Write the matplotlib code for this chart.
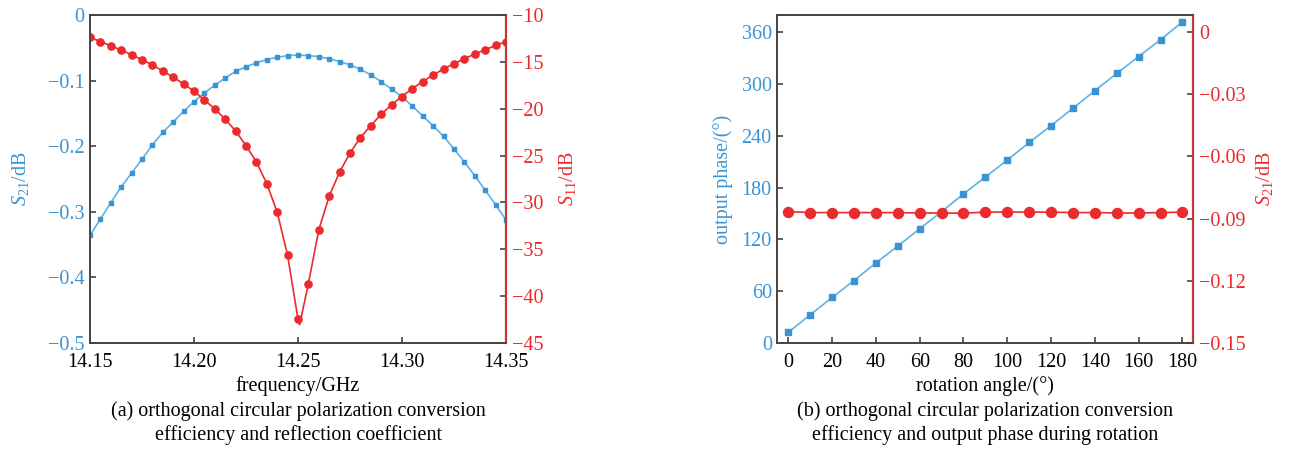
import numpy as np
import matplotlib.pyplot as plt

plt.rcParams["font.family"] = ["Liberation Serif", "DejaVu Serif"]
plt.rcParams["mathtext.fontset"] = "custom"
plt.rcParams["mathtext.rm"] = "Liberation Serif"
plt.rcParams["mathtext.it"] = "Liberation Serif:italic"

BLUE = "#3a93d4"
BLUE_LINE = "#5cb3e6"
RED = "#ea2a2c"
SPINE_RED = "#c0393b"
DARK = "#444444"

# ---------------------------------------------------------------------
# (a) frequency sweep
# ---------------------------------------------------------------------
freq = [14.150, 14.155, 14.160, 14.165, 14.170, 14.175, 14.180, 14.185,
        14.190, 14.195, 14.200, 14.205, 14.210, 14.215, 14.220, 14.225,
        14.230, 14.235, 14.240, 14.245, 14.250, 14.255, 14.260, 14.265,
        14.270, 14.275, 14.280, 14.285, 14.290, 14.295, 14.300, 14.305,
        14.310, 14.315, 14.320, 14.325, 14.330, 14.335, 14.340, 14.345,
        14.350]
s21_freq = [-0.336, -0.311, -0.286, -0.262, -0.241, -0.220, -0.198, -0.179,
            -0.163, -0.147, -0.132, -0.119, -0.107, -0.096, -0.086, -0.079,
            -0.073, -0.068, -0.0645, -0.062, -0.061, -0.062, -0.0635, -0.0666,
            -0.071, -0.076, -0.083, -0.091, -0.1017, -0.113, -0.1245, -0.139,
            -0.154, -0.169, -0.185, -0.204, -0.224, -0.245, -0.267, -0.289,
            -0.3125]
s11_freq = [-12.40, -12.83, -13.29, -13.75, -14.24, -14.77, -15.34, -15.97,
            -16.65, -17.35, -18.13, -19.08, -20.00, -21.13, -22.37, -23.93,
            -25.69, -27.99, -31.03, -35.63, -42.45, -38.67, -32.94, -29.34,
            -26.76, -24.74, -23.08, -21.81, -20.60, -19.58, -18.70, -17.85,
            -17.10, -16.40, -15.76, -15.20, -14.67, -14.17, -13.71, -13.25,
            -12.83]
# the simulated curve dips a little below the sampled markers
dip_freq = [14.2508]
dip_s11 = [-43.05]

# ---------------------------------------------------------------------
# (b) rotation
# ---------------------------------------------------------------------
angle = [0, 10, 20, 30, 40, 50, 60, 70, 80, 90, 100, 110, 120, 130, 140,
         150, 160, 170, 180]
phase = [12.3, 32.7, 52.7, 72.3, 92.7, 112.3, 132.3, 152.2, 172.7, 192.3,
         211.9, 232.3, 251.9, 271.9, 292.3, 312.3, 331.9, 351.5, 371.9]
s21_rot = [-0.0866, -0.0871, -0.0871, -0.0871, -0.0871, -0.0871, -0.0873,
           -0.0873, -0.0874, -0.0869, -0.0868, -0.0869, -0.0869, -0.0871,
           -0.0871, -0.0873, -0.0873, -0.0871, -0.0869]

FS = 14.5

fig = plt.figure(figsize=(12.93, 4.61), dpi=100)
ax1 = fig.add_axes([0.0696, 0.256, 0.3217, 0.7115])
ax3 = fig.add_axes([0.6012, 0.256, 0.3218, 0.7115])


def style_axes(ax, ax_r):
    for a in (ax, ax_r):
        a.tick_params(direction="in", length=4, width=1.2, color=DARK,
                      labelsize=FS, pad=4)
        for s in a.spines.values():
            s.set_color(DARK)
            s.set_linewidth(1.2)
    ax.tick_params(axis="x", colors=DARK, labelcolor="black", pad=7)
    ax.tick_params(axis="y", labelcolor=BLUE)
    ax_r.tick_params(axis="y", labelcolor=RED)
    ax_r.spines["right"].set_color(SPINE_RED)
    ax_r.spines["right"].set_linewidth(1.6)


# ---- panel (a)
ax2 = ax1.twinx()
ax1.plot(freq, s21_freq, color=BLUE_LINE, lw=1.2, marker="s", ms=3.2,
         mfc=BLUE, mec=BLUE, zorder=3)
line_f = np.array(freq + dip_freq)
line_s = np.array(s11_freq + dip_s11)
order = np.argsort(line_f)
ax2.plot(line_f[order], line_s[order], color=RED, lw=1.2)
ax2.plot(freq, s11_freq, ls="none", marker="o", ms=5.2, color=RED)

ax1.set_xlim(14.15, 14.35)
ax1.set_ylim(-0.5, 0)
ax2.set_ylim(-45, -10)
ax1.set_xticks([14.15, 14.20, 14.25, 14.30, 14.35])
ax1.set_xticklabels(["14.15", "14.20", "14.25", "14.30", "14.35"])
ax1.set_yticks([-0.5, -0.4, -0.3, -0.2, -0.1, 0])
ax1.set_yticklabels(["\u22120.5", "\u22120.4", "\u22120.3", "\u22120.2",
                     "\u22120.1", "0"])
ax2.set_yticks([-45, -40, -35, -30, -25, -20, -15, -10])
ax2.set_yticklabels(["\u221245", "\u221240", "\u221235", "\u221230",
                     "\u221225", "\u221220", "\u221215", "\u221210"])
style_axes(ax1, ax2)
ax1.set_xlabel("frequency/GHz", fontsize=FS, labelpad=3)
ax1.set_ylabel(r"$S_{21}$/dB", fontsize=FS, color=BLUE, labelpad=12)
ax2.set_ylabel(r"$S_{11}$/dB", fontsize=FS, color=RED, labelpad=10)

# ---- panel (b)
ax4 = ax3.twinx()
ax3.plot(angle, phase, color=BLUE_LINE, lw=1.2, marker="s", ms=4.6,
         mfc=BLUE, mec=BLUE, zorder=3)
ax4.plot(angle, s21_rot, color=RED, lw=1.2, marker="o", ms=7.2)

ax3.set_xlim(-5, 185)
ax3.set_ylim(0, 380)
ax4.set_ylim(-0.15, 0.0082)
ax3.set_xticks(range(0, 181, 20))
ax3.set_yticks(range(0, 361, 60))
ax4.set_yticks([-0.15, -0.12, -0.09, -0.06, -0.03, 0])
ax4.set_yticklabels(["\u22120.15", "\u22120.12", "\u22120.09", "\u22120.06",
                     "\u22120.03", "0"])
style_axes(ax3, ax4)
ax3.set_xlabel("rotation angle/(\u00b0)", fontsize=FS, labelpad=3)
ax3.set_ylabel("output phase/(\u00b0)", fontsize=FS, color=BLUE, labelpad=6)
ax4.set_ylabel(r"$S_{21}$/dB", fontsize=FS, color=RED, labelpad=6)

# ---- captions
fig.text(0.2305, 0.0824, "(a) orthogonal circular polarization conversion\n"
         "efficiency and reflection coefficient", ha="center", va="center",
         fontsize=FS, linespacing=1.3)
fig.text(0.7621, 0.0824, "(b) orthogonal circular polarization conversion\n"
         "efficiency and output phase during rotation", ha="center",
         va="center", fontsize=FS, linespacing=1.3)

fig.savefig("out.png", dpi=100)
